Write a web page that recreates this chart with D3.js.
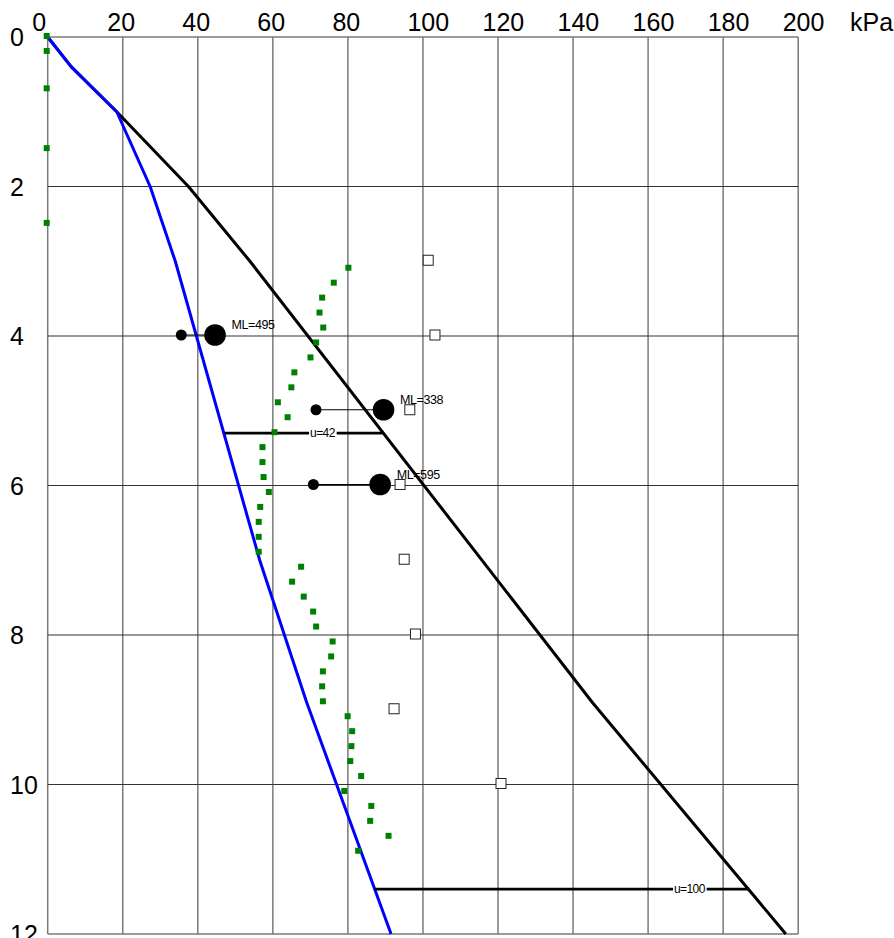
<!DOCTYPE html>
<html>
<head>
<meta charset="utf-8">
<script src="https://cdn.jsdelivr.net/npm/d3@7/dist/d3.min.js"></script>
<style>
  html, body { margin: 0; padding: 0; background: #fff; }
  svg { display: block; font-family: "Liberation Sans", Arial, sans-serif; }
</style>
</head>
<body>
<svg id="chart" width="894" height="938"></svg>
<script>
// Axis ticks
const xTicks = [0, 20, 40, 60, 80, 100, 120, 140, 160, 180, 200];
const depthTicks = [0, 2, 4, 6, 8, 10, 12];

// Effective vertical stress (blue), kPa vs depth (m)
const effDepth = [0, 0.4, 1, 2, 3, 7, 8.9, 12];
const effStress = [0, 6.3, 18.4, 27.3, 34, 56.5, 69, 91.5];

// Total vertical stress (black)
const totDepth = [0, 0.4, 1, 2, 3, 8.9, 12];
const totStress = [0, 6.3, 18.4, 37.5, 53.9, 145.1, 196.7];

// Pore pressure markers
const uDepth = [5.3, 11.4];
const uStart = [47.2, 87];
const uValue = [42, 100];

// Green profile points
const greenDepth = [0, 0.2, 0.7, 1.5, 2.5,
  3.1, 3.3, 3.5, 3.7, 3.9, 4.1, 4.3, 4.5, 4.7, 4.9,
  5.1, 5.3, 5.5, 5.7, 5.9, 6.1, 6.3, 6.5, 6.7, 6.9,
  7.1, 7.3, 7.5, 7.7, 7.9, 8.1, 8.3, 8.5, 8.7, 8.9,
  9.1, 9.3, 9.5, 9.7, 9.9, 10.1, 10.3, 10.5, 10.7, 10.9];
const greenValue = [0, 0, 0, 0, 0,
  80.4, 76.5, 73.4, 72.7, 73.7, 71.8, 70.3, 66.0, 65.2, 61.6,
  64.2, 60.7, 57.5, 57.5, 57.8, 59.2, 56.9, 56.5, 56.5, 56.5,
  67.8, 65.4, 68.5, 71.0, 71.8, 76.2, 75.8, 73.6, 73.4, 73.6,
  80.2, 81.4, 81.2, 80.9, 83.8, 79.3, 86.5, 86.2, 91.1, 83.0];

// Dilatometer / ML points
const mlDepth = [4, 5, 6];
const mlSmall = [35.6, 71.5, 70.8];
const mlBig = [44.6, 89.5, 88.6];
const mlValue = [495, 338, 595];

// Open squares
const sqDepth = [3, 4, 5, 6, 7, 8, 9, 10];
const sqValue = [101.4, 103.2, 96.5, 93.9, 95, 98, 92.3, 120.8];

const svg = d3.select("#chart");
const x = d3.scaleLinear().domain([0, 200]).range([47.7, 798.2]);
const y = d3.scaleLinear().domain([0, 12]).range([37, 934]);

// Grid
const grid = svg.append("g");
grid.selectAll("line.v").data(xTicks).join("line")
  .attr("x1", d => x(d)).attr("x2", d => x(d))
  .attr("y1", y(0)).attr("y2", y(12))
  .attr("stroke", "#7a7a7a").attr("stroke-width", 1.5);
grid.selectAll("line.h").data(depthTicks).join("line")
  .attr("x1", x(0)).attr("x2", x(200))
  .attr("y1", d => y(d)).attr("y2", d => y(d))
  .attr("stroke", d => (d === 0 || d === 12) ? "#7a7a7a" : "#333")
  .attr("stroke-width", d => (d === 0 || d === 12) ? 1.5 : 1.2);

// Axis labels
svg.append("g").selectAll("text").data(xTicks).join("text")
  .attr("x", d => x(d) - 15.5).attr("y", y(0) - 6.3)
  .attr("font-size", 25).attr("fill", "#000")
  .text(d => d);
svg.append("text").attr("x", 850).attr("y", y(0) - 6.3)
  .attr("font-size", 25).text("kPa");
svg.append("g").selectAll("text").data(depthTicks).join("text")
  .attr("x", 10).attr("y", d => y(d) + 9.2)
  .attr("font-size", 25).attr("fill", "#000")
  .text(d => d);

const line = d3.line().x(d => x(d[0])).y(d => y(d[1]));

// Total stress
svg.append("path")
  .attr("d", line(totStress.map((v, i) => [v, totDepth[i]])))
  .attr("fill", "none").attr("stroke", "#000").attr("stroke-width", 3)
  .attr("stroke-linejoin", "round");

// Effective stress
svg.append("path")
  .attr("d", line(effStress.map((v, i) => [v, effDepth[i]])))
  .attr("fill", "none").attr("stroke", "#0000ff").attr("stroke-width", 3)
  .attr("stroke-linejoin", "round");

// Pore pressure bars, then a white gap and the label on top
const uLines = svg.append("g");
const uBacks = svg.append("g");
const uTexts = svg.append("g");
uDepth.forEach((d, i) => {
  const x1 = x(uStart[i]), x2 = x(uStart[i] + uValue[i]), yy = y(d);
  uLines.append("line").attr("x1", x1).attr("x2", x2).attr("y1", yy).attr("y2", yy)
    .attr("stroke", "#000").attr("stroke-width", 2.7);
  const t = uTexts.append("text")
    .attr("x", x2 - 60).attr("y", yy + 4.3)
    .attr("text-anchor", "middle").attr("font-size", 12)
    .attr("letter-spacing", -0.6).text("u=" + uValue[i]);
  const bb = t.node().getBBox();
  uBacks.append("rect")
    .attr("x", bb.x - 1).attr("y", yy - 2.5).attr("width", bb.width + 2).attr("height", 5)
    .attr("fill", "#fff");
});

// ML connectors, circles and labels
const mlG = svg.append("g");
mlDepth.forEach((d, i) => {
  const yy = y(d) - 1;
  mlG.append("line").attr("x1", x(mlSmall[i])).attr("x2", x(mlBig[i]))
    .attr("y1", yy).attr("y2", yy).attr("stroke", "#000").attr("stroke-width", 1);
  mlG.append("circle").attr("cx", x(mlSmall[i])).attr("cy", yy).attr("r", 5.5).attr("fill", "#000");
  mlG.append("circle").attr("cx", x(mlBig[i])).attr("cy", yy).attr("r", 10.8).attr("fill", "#000");
  mlG.append("text").attr("x", x(mlBig[i]) + 16.5).attr("y", yy - 6)
    .attr("font-size", 12.5).attr("letter-spacing", -0.4).text("ML=" + mlValue[i]);
});

// Open squares
svg.append("g").selectAll("rect").data(sqValue).join("rect")
  .attr("x", d => x(d) - 5).attr("y", (d, i) => y(sqDepth[i]) - 6)
  .attr("width", 10).attr("height", 10)
  .attr("fill", "#fff").attr("stroke", "#222").attr("stroke-width", 1);

// Green points
svg.append("g").selectAll("rect").data(greenValue).join("rect")
  .attr("x", d => x(d) - 4).attr("y", (d, i) => y(greenDepth[i]) - 4)
  .attr("width", 6).attr("height", 6)
  .attr("fill", "#008000");
</script>
</body>
</html>
